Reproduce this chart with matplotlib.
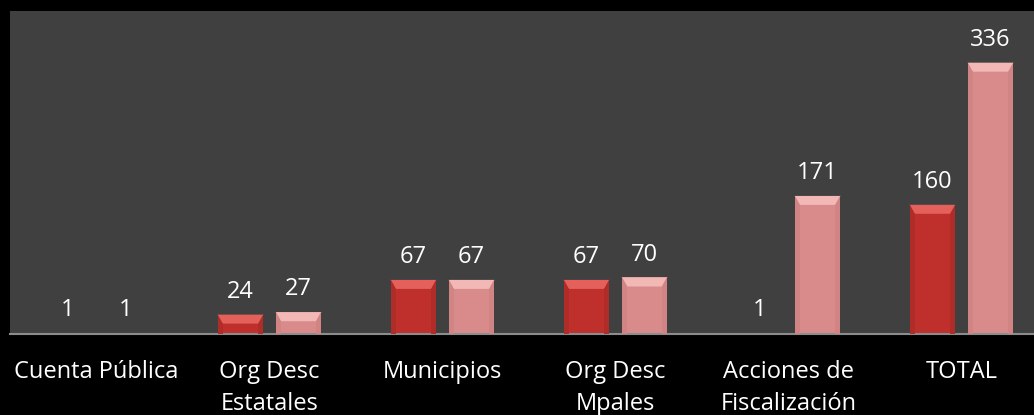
import numpy as np
import matplotlib.pyplot as plt
from matplotlib.patches import Polygon

plt.rcParams['font.family'] = ['Open Sans', 'DejaVu Sans']

categories = ['Cuenta Pública', 'Org Desc\nEstatales', 'Municipios', 'Org Desc\nMpales',
              'Acciones de\nFiscalización', 'TOTAL']
serie_a = [1, 24, 67, 67, 1, 160]
serie_b = [1, 27, 67, 70, 171, 336]

fig = plt.figure(figsize=(10.34, 4.15), dpi=100)
fig.patch.set_facecolor('black')
ax = fig.add_axes([10 / 1034, 1 - 334 / 415, 1038 / 1034, 323 / 415])
ax.set_facecolor('#404040')

x = np.arange(len(categories))
w = 0.265
off = 0.168
bars_a = ax.bar(x - off, serie_a, w, color='#bf302d', zorder=2)
bars_b = ax.bar(x + off, serie_b, w, color='#d98b8b', zorder=2)

ax.set_xlim(-0.5, len(categories) - 0.5)
ax.set_ylim(0, 400)

# pixel -> data conversions for the bevel
px_x = len(categories) / 1038
px_y = 400 / 323


def bevel(bars, top_col, side_col):
    for b in bars:
        x0, h, bw = b.get_x(), b.get_height(), b.get_width()
        if h / px_y < 3:
            continue
        d = min(9 * px_y, h * 0.5)
        dx = 5 * px_x
        ax.add_patch(Polygon([(x0, h), (x0 + bw, h), (x0 + bw - dx, h - d), (x0 + dx, h - d)],
                             closed=True, color=top_col, zorder=3, lw=0))
        ax.add_patch(Polygon([(x0 + bw, h), (x0 + bw, 0), (x0 + bw - dx, 0), (x0 + bw - dx, h - d)],
                             closed=True, color=side_col, zorder=3, lw=0))
        ax.add_patch(Polygon([(x0, h), (x0, 0), (x0 + dx, 0), (x0 + dx, h - d)],
                             closed=True, color=side_col, zorder=3, lw=0))


bevel(bars_a, '#e4605a', '#b02c29')
bevel(bars_b, '#f2b8b6', '#d08484')

for bars, vals in ((bars_a, serie_a), (bars_b, serie_b)):
    for b, v in zip(bars, vals):
        ax.text(b.get_x() + b.get_width() / 2, v + 21, str(v), ha='center', va='baseline',
                color='white', fontsize=17)

ax.set_xticks(x)
ax.set_xticklabels(categories, color='white', fontsize=17, linespacing=1.45)
ax.tick_params(axis='x', length=0, pad=19)
ax.set_yticks([])
for s in ['top', 'left', 'right']:
    ax.spines[s].set_visible(False)
ax.spines['bottom'].set_color('#8c8c8c')
ax.spines['bottom'].set_linewidth(1.5)

fig.savefig('out.png', dpi=100, facecolor='black')
